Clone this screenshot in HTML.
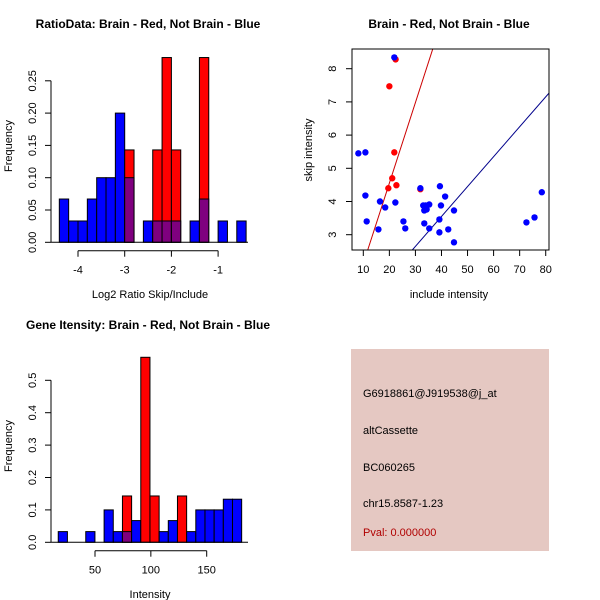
<!DOCTYPE html>
<html><head><meta charset="utf-8"><style>
body{margin:0;background:#fff}
svg{display:block;font-family:"Liberation Sans",sans-serif}
</style></head><body>
<svg id="s" width="600" height="600" viewBox="0 0 600 600" xmlns="http://www.w3.org/2000/svg">
<rect width="600" height="600" fill="#fff"/>
<g id="g1"></g>
<g id="g2"></g>
<g id="g3"></g>
<g>
<rect x="351" y="349" width="198" height="202" fill="#e5c8c2"/>
<text x="363" y="397" font-size="11">G6918861@J919538@j_at</text>
<text x="363" y="434" font-size="11">altCassette</text>
<text x="363" y="471" font-size="11">BC060265</text>
<text x="363" y="507" font-size="11">chr15.8587-1.23</text>
<text x="363" y="536" font-size="11" fill="#b00000">Pval: 0.000000</text>
</g>
</svg>
<script>
// ---- Data: ratio histogram ----
const ratioBinStart = -4.4;
const ratioBinWidth = 0.2;
const ratioBlue = [0.067,0.033,0.033,0.067,0.1,0.1,0.2,0.1,0,0.033,0.033,0.033,0.033,0,0.033,0.067,0,0.033,0,0.033];
const ratioRed  = [0,0,0,0,0,0,0,0.143,0,0,0.143,0.286,0.143,0,0,0.286,0,0,0,0];
const ratioXTicks = [-4,-3,-2,-1];
const ratioYTicks = [0,0.05,0.10,0.15,0.20,0.25];
// ---- Data: scatter ----
const blueX = [8.1,10.8,10.8,11.3,15.8,16.4,18.4,21.9,22.3,25.4,26.1,31.9,33.0,33.9,33.4,34.3,33.4,35.3,35.3,39.4,39.8,39.2,39.2,41.4,42.6,44.8,44.8,72.6,75.7,78.5];
const blueY = [5.45,5.48,4.18,3.40,3.16,4.0,3.82,8.34,3.97,3.40,3.19,4.40,3.88,3.88,3.73,3.76,3.34,3.91,3.19,4.46,3.88,3.46,3.07,4.15,3.16,3.73,2.77,3.37,3.52,4.28];
const redX = [22.4,20.0,21.9,21.1,22.7,19.6,31.9];
const redY = [8.28,7.47,5.48,4.70,4.49,4.40,4.37];
const redLine = [-0.298, 0.2426];   // intercept, slope
const blueLine = [-0.055, 0.0901];
const scXTicks = [10,20,30,40,50,60,70,80];
const scYTicks = [3,4,5,6,7,8];
// ---- Data: gene intensity histogram ----
const geneBinStart = 17.1;
const geneBinWidth = 8.21;
const geneBlue = [0.033,0,0,0.033,0,0.1,0.033,0.033,0.067,0,0,0.033,0.067,0,0.033,0.1,0.1,0.1,0.133,0.133];
const geneRed  = [0,0,0,0,0,0,0,0.143,0,0.571,0.143,0,0,0.143,0,0,0,0,0,0];
const geneXTicks = [50,100,150];
const geneYTicks = [0,0.1,0.2,0.3,0.4,0.5];

const NS="http://www.w3.org/2000/svg";
function mk(parent,tag,attrs){const e=document.createElementNS(NS,tag);for(const k in attrs)e.setAttribute(k,attrs[k]);parent.appendChild(e);return e;}

function histogram(g,o){
  const sx=v=>o.x0+(v-o.v0)*o.kx, sy=v=>o.y0-v*o.ky;
  for(let i=0;i<o.blue.length;i++){
    const a=o.start+i*o.w, b=a+o.w, x=sx(a), wd=sx(b)-sx(a);
    const bl=o.blue[i], rd=o.red[i];
    if(rd>0){const r=mk(g,'rect',{x:x,y:sy(rd),width:wd,height:sy(0)-sy(rd),fill:'#ff0000',stroke:'#000','stroke-width':1});
      
      }
    if(bl>0){const ov=rd>0;const r=mk(g,'rect',{x:x,y:sy(bl),width:wd,height:sy(0)-sy(bl),fill:ov?'#7f007f':'#0000ff',stroke:'#000','stroke-width':1});
      
      }
  }
  const yt=o.yTicks;
  const ya=mk(g,'line',{x1:o.ax,x2:o.ax,y1:sy(yt[0]),y2:sy(yt[yt.length-1]),stroke:'#000'});
  
  
  yt.forEach(v=>{mk(g,'line',{x1:o.ax-6,x2:o.ax,y1:sy(v),y2:sy(v),stroke:'#000'});
    const t=mk(g,'text',{x:o.ax-15,y:sy(v),'font-size':11,'text-anchor':'middle',transform:`rotate(-90 ${o.ax-15} ${sy(v)})`});
    t.textContent=o.yFmt(v);
    
    });
  const xt=o.xTicks;
  const xa=mk(g,'line',{x1:sx(xt[0]),x2:sx(xt[xt.length-1]),y1:o.ay,y2:o.ay,stroke:'#000'});
  
  
  xt.forEach(v=>{mk(g,'line',{x1:sx(v),x2:sx(v),y1:o.ay,y2:o.ay+6,stroke:'#000'});
    const t=mk(g,'text',{x:sx(v),y:o.ay+23,'font-size':11,'text-anchor':'middle'});t.textContent=v;
    
    });
  mk(g,'line',{x1:o.bx1,x2:o.bx2,y1:sy(0),y2:sy(0),stroke:'#000'});
}

histogram(document.getElementById('g1'),{start:ratioBinStart,w:ratioBinWidth,blue:ratioBlue,red:ratioRed,
  x0:78,v0:-4,kx:46.7,y0:242.3,ky:646,ax:51,ay:250.7,bx1:51,bx2:248,xTicks:ratioXTicks,yTicks:ratioYTicks,yFmt:v=>v.toFixed(2)});
histogram(document.getElementById('g3'),{start:geneBinStart,w:geneBinWidth,blue:geneBlue,red:geneRed,
  x0:95,v0:50,kx:1.117,y0:542.3,ky:324,ax:51,ay:550.7,bx1:51,bx2:248,xTicks:geneXTicks,yTicks:geneYTicks,yFmt:v=>v.toFixed(1)});

(function(){
  const g=document.getElementById('g2');
  const L=352,R=549,T=49,B=250;
  const sx=v=>363.3+(v-10)*2.606, sy=v=>234.7-(v-3)*33.2;
  const cp=mk(g,'clipPath',{id:'cp'});mk(cp,'rect',{x:L,y:T,width:R-L,height:B-T});
  const xmin=(L-363.3)/2.606+10, xmax=(R-363.3)/2.606+10;
  [[redLine,'#cc0000','red-fit-line'],[blueLine,'#00008b','blue-fit-line']].forEach(([ln,c,n])=>{
    const l=mk(g,'line',{x1:sx(xmin),y1:sy(ln[0]+ln[1]*xmin),x2:sx(xmax),y2:sy(ln[0]+ln[1]*xmax),stroke:c,'clip-path':'url(#cp)'});
    
    });
  redX.forEach((x,i)=>{const c=mk(g,'circle',{cx:sx(x),cy:sy(redY[i]),r:3.2,fill:'#ff0000'});
    
    });
  blueX.forEach((x,i)=>{const c=mk(g,'circle',{cx:sx(x),cy:sy(blueY[i]),r:3.2,fill:'#0000ff'});
    
    });
  const fr=mk(g,'rect',{x:L,y:T,width:R-L,height:B-T,fill:'none',stroke:'#000'});
  
  
  scXTicks.forEach(v=>{mk(g,'line',{x1:sx(v),x2:sx(v),y1:B,y2:B+6,stroke:'#000'});
    const t=mk(g,'text',{x:sx(v),y:B+23,'font-size':11,'text-anchor':'middle'});t.textContent=v;
    
    });
  scYTicks.forEach(v=>{mk(g,'line',{x1:L-6,x2:L,y1:sy(v),y2:sy(v),stroke:'#000'});
    const t=mk(g,'text',{x:L-16,y:sy(v),'font-size':11,'text-anchor':'middle',transform:`rotate(-90 ${L-16} ${sy(v)})`});t.textContent=v;
    
    });
})();

const labels=[
 [148,28,'RatioData: Brain - Red, Not Brain - Blue',12,'bold',0,'ratio-title'],
 [150,298,'Log2 Ratio Skip/Include',11,'normal',0,'ratio-x-title'],
 [12,146,'Frequency',11,'normal',-90,'ratio-y-title'],
 [449,28,'Brain - Red, Not Brain - Blue',12,'bold',0,'scatter-title'],
 [449,298,'include intensity',11,'normal',0,'scatter-x-title'],
 [312,150,'skip intensity',11,'normal',-90,'scatter-y-title'],
 [148,329,'Gene Itensity: Brain - Red, Not Brain - Blue',12,'bold',0,'gene-title'],
 [150,598,'Intensity',11,'normal',0,'gene-x-title'],
 [12,446,'Frequency',11,'normal',-90,'gene-y-title']];
const sv=document.getElementById('s');
labels.forEach(([x,y,s,fs,fw,rot,n])=>{
  const t=mk(sv,'text',{x:x,y:y,'font-size':fs,'font-weight':fw,'text-anchor':'middle'});
  if(rot)t.setAttribute('transform',`rotate(${rot} ${x} ${y})`);
  t.textContent=s;
  
  
});
</script>
</body></html>
